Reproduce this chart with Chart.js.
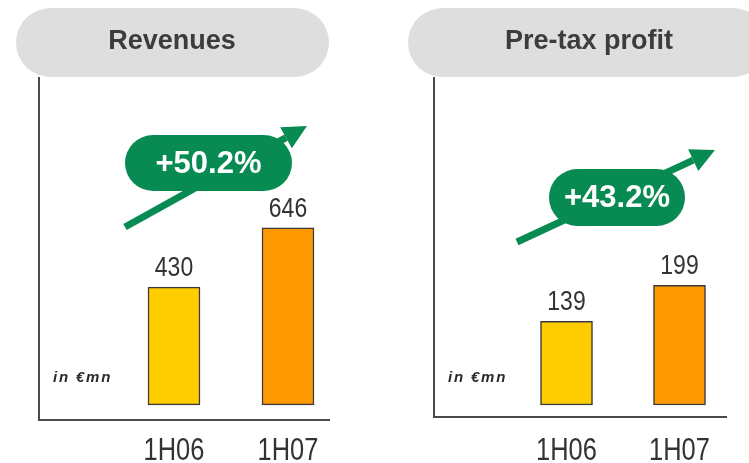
<!DOCTYPE html>
<html><head><meta charset="utf-8">
<script src="https://cdn.jsdelivr.net/npm/chart.js@4"></script>
<style>
html,body{margin:0;padding:0;background:#fff;width:749px;height:463px;overflow:hidden}
#c1{position:absolute;left:0;top:0;width:375px;height:463px}
#c2{position:absolute;left:375px;top:0;width:374px;height:463px}
</style></head><body>
<canvas id="c1" width="375" height="463"></canvas>
<canvas id="c2" width="374" height="463"></canvas>
<script>
const periods = ['1H06', '1H07'];
const revenues = [430, 646];
const preTaxProfit = [139, 199];
const titles = ['Revenues', 'Pre-tax profit'];
const growthLabels = ['+50.2%', '+43.2%'];
const unitLabel = 'in €mn';
const barColors = ['#FFCC00', '#FF9900'];

const GREEN = '#078b52';
const SANS = "'Liberation Sans', Arial, sans-serif";
const NARROW_SCALE = 0.82;

function narrowText(ctx, text, x, y, size, color) {
  ctx.save();
  ctx.font = size + 'px ' + SANS;
  ctx.fillStyle = color;
  ctx.textAlign = 'center';
  ctx.textBaseline = 'alphabetic';
  ctx.translate(x, y);
  ctx.scale(NARROW_SCALE, 1);
  ctx.fillText(text, 0, 0);
  ctx.restore();
}

function decor(cfg) {
  return {
    id: 'decor',
    beforeDraw(chart) {
      const ctx = chart.ctx;
      ctx.save();
      // header pill
      ctx.fillStyle = '#dedede';
      ctx.beginPath();
      ctx.roundRect(cfg.pill.x, cfg.pill.y, cfg.pill.w, cfg.pill.h, cfg.pill.h / 2);
      ctx.fill();
      ctx.fillStyle = '#3c3c3c';
      ctx.font = 'bold 27px ' + SANS;
      ctx.textAlign = 'center';
      ctx.textBaseline = 'middle';
      ctx.fillText(cfg.title, cfg.titleX, cfg.titleY);
      // axis frame
      ctx.strokeStyle = '#4a4a4a';
      ctx.lineWidth = 2;
      ctx.beginPath();
      ctx.moveTo(cfg.axis.x, cfg.axis.top);
      ctx.lineTo(cfg.axis.x, chart.chartArea.bottom);
      ctx.lineTo(cfg.axis.right, chart.chartArea.bottom);
      ctx.stroke();
      // unit label
      ctx.fillStyle = '#2a2a2a';
      ctx.font = 'italic bold 15px ' + SANS;
      ctx.textAlign = 'left';
      ctx.textBaseline = 'middle';
      try { ctx.letterSpacing = '1.8px'; } catch (e) {}
      ctx.fillText(unitLabel, cfg.unit.x, cfg.unit.y);
      try { ctx.letterSpacing = '0px'; } catch (e) {}
      ctx.restore();
    },
    afterDatasetsDraw(chart) {
      const ctx = chart.ctx;
      const meta = chart.getDatasetMeta(0);
      const data = chart.data.datasets[0].data;
      const xs = chart.scales.x;
      ctx.save();
      // category labels along the x scale
      chart.data.labels.forEach((lab, i) => {
        narrowText(ctx, lab, xs.getPixelForValue(i), cfg.labelBaseline, 31, '#333');
      });
      // value labels
      meta.data.forEach((bar, i) => {
        narrowText(ctx, String(data[i]), bar.x, bar.y - 11, 28, '#333');
      });
      // arrow
      const a = cfg.arrow;
      const ang = Math.atan2(a.y1 - a.y0, a.x1 - a.x0);
      const hl = 24, hw = 12;
      const bx = a.x1 - hl * Math.cos(ang), by = a.y1 - hl * Math.sin(ang);
      ctx.strokeStyle = GREEN;
      ctx.fillStyle = GREEN;
      ctx.lineWidth = 7;
      ctx.beginPath();
      ctx.moveTo(a.x0, a.y0);
      ctx.lineTo(bx, by);
      ctx.stroke();
      ctx.beginPath();
      ctx.moveTo(a.x1, a.y1);
      ctx.lineTo(bx + hw * Math.sin(ang), by - hw * Math.cos(ang));
      ctx.lineTo(bx - hw * Math.sin(ang), by + hw * Math.cos(ang));
      ctx.closePath();
      ctx.fill();
      // badge
      const b = cfg.badge;
      ctx.beginPath();
      ctx.roundRect(b.cx - b.w / 2, b.cy - b.h / 2, b.w, b.h, b.h / 2);
      ctx.fill();
      ctx.fillStyle = '#fff';
      ctx.font = 'bold 31px ' + SANS;
      ctx.textAlign = 'center';
      ctx.textBaseline = 'middle';
      ctx.fillText(cfg.growth, b.cx, b.cy + 1);
      ctx.restore();
    }
  };
}

function makeChart(id, values, yMin, yMax, pad, cfg) {
  return new Chart(document.getElementById(id), {
    type: 'bar',
    data: {
      labels: periods,
      datasets: [{
        data: values,
        backgroundColor: barColors,
        borderColor: '#3a3a3a',
        borderWidth: 1.5,
        borderSkipped: false,
        barThickness: 52
      }]
    },
    options: {
      responsive: false,
      animation: false,
      events: [],
      layout: { padding: pad },
      plugins: { legend: { display: false }, tooltip: { enabled: false } },
      scales: {
        y: { display: false, min: yMin, max: yMax },
        x: { display: false }
      }
    },
    plugins: [decor(cfg)]
  });
}

makeChart('c1', revenues, -55, 1197, { left: 117, right: 30, top: 77, bottom: 43 }, {
  title: titles[0], growth: growthLabels[0],
  pill: { x: 16, y: 8, w: 313, h: 69 }, titleX: 172, titleY: 42,
  axis: { x: 39, top: 77, right: 330 },
  labelBaseline: 460,
  arrow: { x0: 125, y0: 227, x1: 307, y1: 126 },
  badge: { cx: 208.5, cy: 163, w: 167, h: 56 },
  unit: { x: 53, y: 378 }
});

makeChart('c2', preTaxProfit, -20, 545, { left: 135, right: 13, top: 77, bottom: 46 }, {
  title: titles[1], growth: growthLabels[1],
  pill: { x: 33, y: 8, w: 360, h: 69 }, titleX: 214, titleY: 42,
  axis: { x: 59, top: 77, right: 352 },
  labelBaseline: 460,
  arrow: { x0: 142, y0: 242, x1: 340, y1: 150 },
  badge: { cx: 242, cy: 197.5, w: 136, h: 57 },
  unit: { x: 73, y: 378 }
});
</script>
</body></html>
